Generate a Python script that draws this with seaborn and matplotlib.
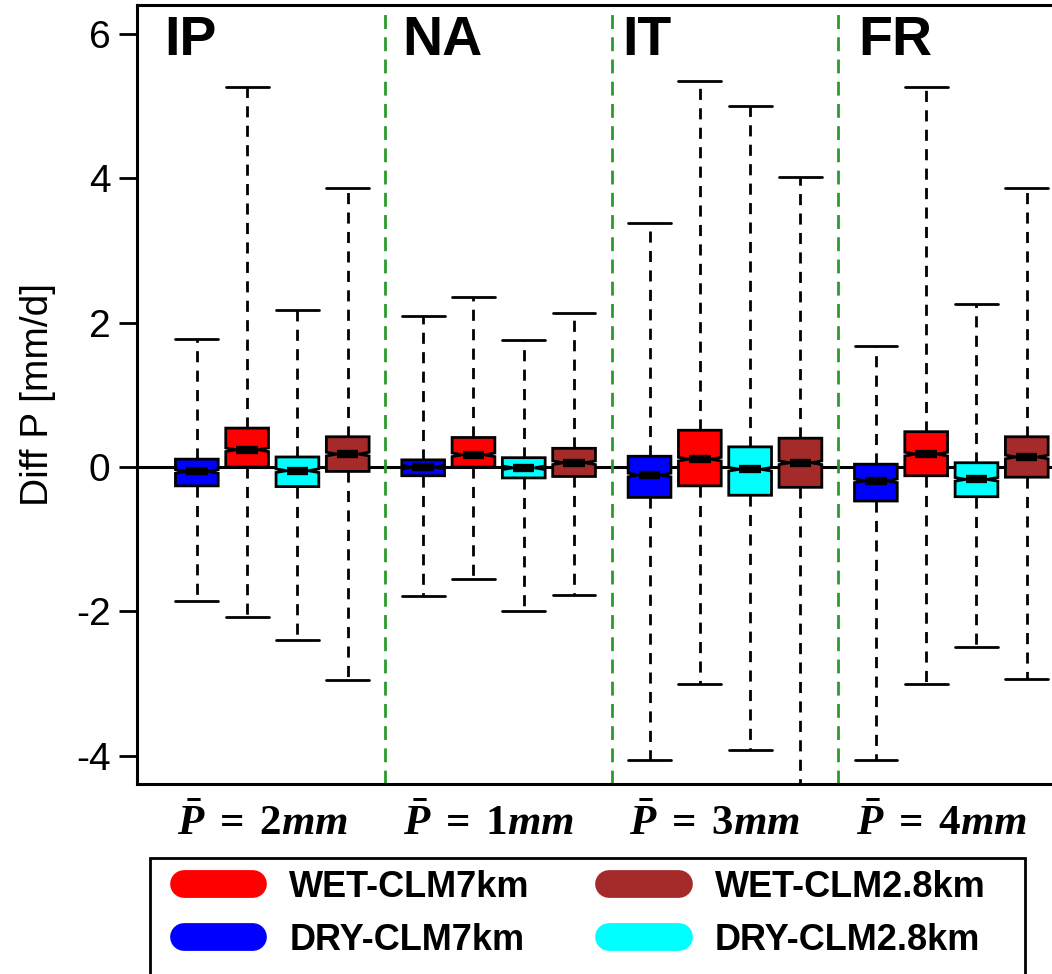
import matplotlib
matplotlib.use("Agg")
import matplotlib.pyplot as plt
import seaborn as sns
from matplotlib.lines import Line2D
from matplotlib.patches import Rectangle

# === Data ===
regions = ["IP", "NA", "IT", "FR"]
mean_precip = ["2mm", "1mm", "3mm", "4mm"]
runs = ["DRY-CLM7km", "WET-CLM7km", "DRY-CLM2.8km", "WET-CLM2.8km"]
run_colors = ["#0000ff", "#ff0000", "#00ffff", "#a52a2a"]

# one row per region, columns in the order of `runs`
whisker_low = [
    [-1.86, -2.08, -2.40, -2.95],
    [-1.79, -1.55, -2.00, -1.77],
    [-4.06, -3.00, -3.92, -4.60],
    [-4.06, -3.00, -2.49, -2.94],
]
box_q1 = [
    [-0.26, 0.00, -0.27, -0.06],
    [-0.12, 0.00, -0.15, -0.13],
    [-0.42, -0.26, -0.39, -0.28],
    [-0.47, -0.12, -0.41, -0.14],
]
box_median = [
    [-0.06, 0.24, -0.05, 0.18],
    [0.00, 0.17, -0.01, 0.06],
    [-0.11, 0.11, -0.03, 0.06],
    [-0.19, 0.18, -0.17, 0.14],
]
box_q3 = [
    [0.11, 0.54, 0.14, 0.42],
    [0.10, 0.41, 0.13, 0.26],
    [0.15, 0.51, 0.28, 0.40],
    [0.04, 0.49, 0.06, 0.42],
]
whisker_high = [
    [1.77, 5.26, 2.17, 3.86],
    [2.09, 2.35, 1.76, 2.13],
    [3.38, 5.35, 5.00, 4.02],
    [1.68, 5.26, 2.26, 3.86],
]
notch_half = 0.025

# === Style ===
sns.set_theme(style="ticks")
plt.rcParams["font.family"] = ["Liberation Sans", "DejaVu Sans"]
plt.rcParams["axes.unicode_minus"] = False
plt.rcParams["text.color"] = "black"
plt.rcParams["axes.labelcolor"] = "black"
plt.rcParams["xtick.color"] = "black"
plt.rcParams["ytick.color"] = "black"
plt.rcParams["mathtext.fontset"] = "custom"
plt.rcParams["mathtext.rm"] = "Liberation Serif:bold"
plt.rcParams["mathtext.it"] = "Liberation Serif:italic:bold"
plt.rcParams["mathtext.bf"] = "Liberation Serif:bold"

fig = plt.figure(figsize=(10.52, 9.74), dpi=100)
ax = fig.add_axes([0.1302, 0.195, 0.875, 0.7999])

group_step = 4.5
stats, positions, colors = [], [], []
for g in range(len(regions)):
    for k in range(len(runs)):
        med = box_median[g][k]
        stats.append({
            "med": med,
            "q1": box_q1[g][k],
            "q3": box_q3[g][k],
            "whislo": whisker_low[g][k],
            "whishi": whisker_high[g][k],
            "cilo": med - notch_half,
            "cihi": med + notch_half,
            "fliers": [],
        })
        positions.append(g * group_step + k + 1)
        colors.append(run_colors[k])

ax.axhline(0, color="black", lw=2.2, zorder=1)

bp = ax.bxp(
    stats, positions=positions, widths=0.85, capwidths=0.85,
    patch_artist=True, shownotches=True, showfliers=False,
    boxprops=dict(edgecolor="black", linewidth=2),
    whiskerprops=dict(color="black", linewidth=2, linestyle=(0, (4, 3))),
    capprops=dict(color="black", linewidth=2),
    medianprops=dict(color="black", linewidth=6, solid_capstyle="butt"),
    manage_ticks=False, zorder=2,
)
for patch, c in zip(bp["boxes"], colors):
    patch.set_facecolor(c)

# region separators
for g in range(1, len(regions)):
    ax.axvline(g * group_step + 0.25, color="#2e9a2e", lw=2,
               linestyle=(0, (5, 3)), zorder=1)

# region names
label_x = [0.36, 5.08, 9.45, 14.14]
for name, x in zip(regions, label_x):
    ax.text(x, 5.71, name, fontsize=40, fontweight="bold", ha="left",
            va="baseline", color="black")

ax.set_xlim(-0.19, 18.11)
ax.set_ylim(-4.39, 6.4)
ax.set_yticks([-4, -2, 0, 2, 4, 6])
ax.tick_params(axis="y", length=13, width=2, labelsize=28, pad=6, color="black")
ax.set_xticks([g * group_step + 2.3 for g in range(len(regions))])
ax.set_xticklabels([r"$\bar{P}\;=\;%s$" % m for m in mean_precip], fontsize=31)
ax.tick_params(axis="x", length=0, pad=14)
ax.set_ylabel("Diff P [mm/d]", fontsize=28, labelpad=14)

for side in ["left", "top", "bottom"]:
    ax.spines[side].set_linewidth(2.2)
    ax.spines[side].set_color("black")
ax.spines["right"].set_visible(False)
ax.grid(False)

# legend
handles = [Line2D([0], [0], color=run_colors[i], lw=20, solid_capstyle="round")
           for i in [1, 0, 3, 2]]
labels = [runs[i] for i in [1, 0, 3, 2]]
fig.legend(handles, labels, loc="upper left",
           bbox_to_anchor=(184 / 1052, 1 - 870 / 974), ncol=2, frameon=False,
           prop={"weight": "bold", "size": 26}, handlelength=1.92,
           handletextpad=1.0, columnspacing=2.2, labelspacing=0.5,
           borderpad=0, borderaxespad=0)
fig.add_artist(Rectangle((150 / 1052, 1 - 990 / 974), 875 / 1052, 132 / 974,
                         transform=fig.transFigure, fill=False,
                         edgecolor="black", linewidth=2))

fig.savefig("out.png", dpi=100)
